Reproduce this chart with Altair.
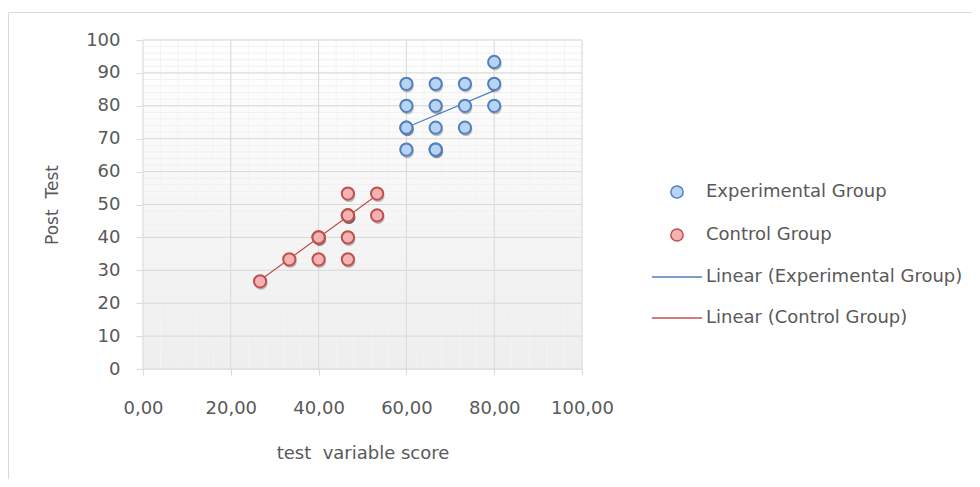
import altair as alt
import pandas as pd

# ---- data ----
exp_x = [60, 60, 60, 60, 60, 66.67, 66.67, 66.67, 66.67, 66.67, 73.33, 73.33, 73.33, 80, 80, 80]
exp_y = [86.67, 80, 73.33, 73.33, 66.67, 86.67, 80, 73.33, 66.67, 66.67, 86.67, 80, 73.33, 93.33, 86.67, 80]
ctl_x = [26.67, 33.33, 40, 40, 40, 46.67, 46.67, 46.67, 46.67, 46.67, 46.67, 53.33, 53.33]
ctl_y = [26.67, 33.33, 33.33, 40, 40, 33.33, 40, 46.67, 46.67, 46.67, 53.33, 46.67, 53.33]
# linear trend lines (end points)
trend_exp_x = [60, 80]
trend_exp_y = [73.4, 84.6]
trend_ctl_x = [26.67, 53.33]
trend_ctl_y = [27.0, 52.9]

series = ["Experimental Group", "Control Group",
          "Linear (Experimental Group)", "Linear (Control Group)"]
x_ticks = [0, 20, 40, 60, 80, 100]
y_ticks = [0, 10, 20, 30, 40, 50, 60, 70, 80, 90, 100]
x_title = "test\u00a0 variable score"
y_title = "Post\u00a0 Test"

FONT = "DejaVu Sans"
W, H = 439, 329
pts = pd.DataFrame({
    "x": exp_x + ctl_x,
    "y": exp_y + ctl_y,
    "series": [series[0]] * len(exp_x) + [series[1]] * len(ctl_x),
})
t_exp = pd.DataFrame({"x": trend_exp_x, "y": trend_exp_y})
t_ctl = pd.DataFrame({"x": trend_ctl_x, "y": trend_ctl_y})

xs = alt.Scale(domain=[0, 100], nice=False, zero=False)
ys = alt.Scale(domain=[0, 100], nice=False, zero=False)
x_axis = alt.Axis(values=x_ticks, title=x_title,
                  labelExpr="replace(format(datum.value, '.2f'), '.', ',')",
                  labelOverlap=False, labelFlush=False, labelBound=False,
                  grid=False, labelPadding=24, titlePadding=27, tickSize=6)
y_axis = alt.Axis(values=y_ticks, title=y_title,
                  labelOverlap=False, labelFlush=False,
                  grid=False, labelPadding=16, titlePadding=24, tickSize=7)
one = pd.DataFrame({"a": [0]})

frame = alt.Chart(one).mark_rect(fill="transparent", stroke="#d9d9d9", strokeWidth=1).encode(
    x=alt.value(-134.5), x2=alt.value(900), y=alt.value(-27.5), y2=alt.value(600))

bg = alt.Chart(one).mark_rect(
    fill=alt.LinearGradient(gradient="linear", x1=0, x2=0, y1=0, y2=1,
                            stops=[alt.GradientStop(offset=0, color="#ffffff"),
                                   alt.GradientStop(offset=1, color="#eeeeee")])
).encode(x=alt.value(0), x2=alt.value(W), y=alt.value(0), y2=alt.value(H))


def vrules(step, color):
    return alt.Chart(alt.sequence(0, 100.01, step, as_="x")).mark_rule(color=color, strokeWidth=1).encode(
        x=alt.X("x:Q", scale=xs, axis=x_axis))


def hrules(step, color):
    return alt.Chart(alt.sequence(0, 100.01, step, as_="y")).mark_rule(color=color, strokeWidth=1).encode(
        y=alt.Y("y:Q", scale=ys, axis=y_axis))


minor_v = vrules(4, "#f4f4f4")
minor_h = hrules(2, "#f1f1f1")
major_v = vrules(20, "#d9d9d9")
major_h = hrules(10, "#d9d9d9")


def trend_line(df, color):
    return alt.Chart(df).mark_line(strokeWidth=1.2, color=color).encode(
        x=alt.X("x:Q", scale=xs, axis=x_axis),
        y=alt.Y("y:Q", scale=ys, axis=y_axis))


line_e = trend_line(t_exp, "#4f81bd")
line_c = trend_line(t_ctl, "#c0504d")

shadow = alt.Chart(pts).mark_point(filled=True, size=170, color="#000000", opacity=0.25, xOffset=1, yOffset=2).encode(
    x=alt.X("x:Q", scale=xs, axis=x_axis),
    y=alt.Y("y:Q", scale=ys, axis=y_axis),
)

line_shape = "M-4.1,0L4.1,0"
leg = alt.Legend(title=None, orient="none", legendX=525, legendY=143)
points = alt.Chart(pts).mark_point(size=150, strokeWidth=2, opacity=1, fillOpacity=1).encode(
    x=alt.X("x:Q", scale=xs, axis=x_axis),
    y=alt.Y("y:Q", scale=ys, axis=y_axis),
    stroke=alt.Stroke("series:N", scale=alt.Scale(domain=series, range=["#4f81bd", "#c0504d", "#4f81bd", "#c0504d"]),
                      legend=leg),
    fill=alt.Fill("series:N", scale=alt.Scale(domain=series, range=["#b9d3f4", "#f4b3b3", "transparent", "transparent"]),
                  legend=leg),
    shape=alt.Shape("series:N", scale=alt.Scale(domain=series, range=["circle", "circle", line_shape, line_shape]),
                    legend=leg),
)

chart = alt.layer(frame, bg, minor_v, minor_h, major_v, major_h, line_e, line_c, shadow, points).properties(
    width=W, height=H,
    autosize=alt.AutoSizeParams(type="none"),
    padding={"left": 135, "top": 32, "right": 390, "bottom": 110},
).configure_view(stroke=None).configure_axis(
    labelFont=FONT, labelFontSize=18, labelColor="#595959",
    titleFont=FONT, titleFontSize=17, titleColor="#595959", titleFontWeight="normal",
    domainColor="#d9d9d9", tickColor="#d9d9d9",
).configure_axisX(titleFontSize=18).configure_legend(
    labelFont=FONT, labelFontSize=18, labelColor="#595959",
    symbolSize=150, symbolStrokeWidth=1.5, labelOffset=20, rowPadding=23, labelLimit=400,
)

chart.save("out.html", embed_options={"renderer": "svg", "actions": False})
